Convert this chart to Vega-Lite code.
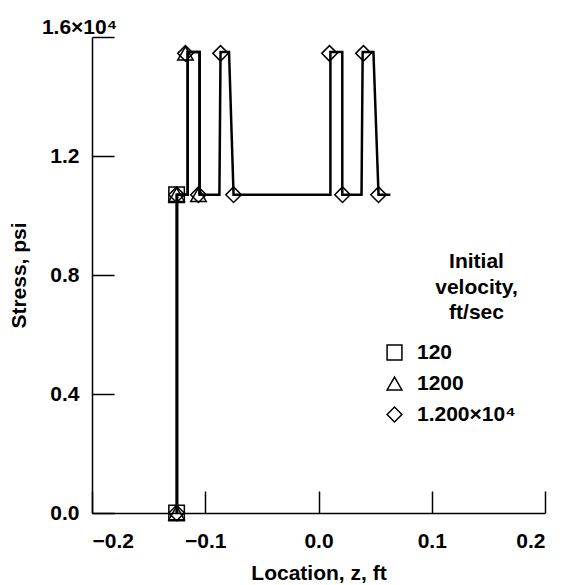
{
  "$schema": "https://vega.github.io/schema/vega-lite/v6.json",
  "width": 453,
  "height": 476,
  "autosize": {"type": "none"},
  "padding": {"left": 92, "top": 37, "right": 17, "bottom": 72},
  "config": {
    "view": {"stroke": null},
    "font": "Liberation Sans",
    "axis": {
      "grid": false,
      "domainColor": "black",
      "domainWidth": 1.5,
      "tickColor": "black",
      "tickWidth": 1.5,
      "tickSize": -22,
      "labelColor": "black",
      "labelFontSize": 21,
      "labelFontWeight": "bold",
      "titleColor": "black",
      "titleFontSize": 21,
      "titleFontWeight": "bold"
    }
  },
  "datasets": {
    "curves": [
      {"series": "1.200×10⁴", "i": 1, "z": -0.125, "stress": 0},
      {"series": "1.200×10⁴", "i": 2, "z": -0.125, "stress": 10700},
      {"series": "1.200×10⁴", "i": 3, "z": -0.1155, "stress": 10700},
      {"series": "1.200×10⁴", "i": 4, "z": -0.1155, "stress": 15500},
      {"series": "1.200×10⁴", "i": 5, "z": -0.105, "stress": 15500},
      {"series": "1.200×10⁴", "i": 6, "z": -0.105, "stress": 10700},
      {"series": "1.200×10⁴", "i": 7, "z": -0.0875, "stress": 10700},
      {"series": "1.200×10⁴", "i": 8, "z": -0.0865, "stress": 15500},
      {"series": "1.200×10⁴", "i": 9, "z": -0.079, "stress": 15500},
      {"series": "1.200×10⁴", "i": 10, "z": -0.075, "stress": 10700},
      {"series": "1.200×10⁴", "i": 11, "z": 0.0105, "stress": 10700},
      {"series": "1.200×10⁴", "i": 12, "z": 0.0105, "stress": 15500},
      {"series": "1.200×10⁴", "i": 13, "z": 0.021, "stress": 15500},
      {"series": "1.200×10⁴", "i": 14, "z": 0.021, "stress": 10700},
      {"series": "1.200×10⁴", "i": 15, "z": 0.038, "stress": 10700},
      {"series": "1.200×10⁴", "i": 16, "z": 0.039, "stress": 15500},
      {"series": "1.200×10⁴", "i": 17, "z": 0.0485, "stress": 15500},
      {"series": "1.200×10⁴", "i": 18, "z": 0.053, "stress": 10700},
      {"series": "1.200×10⁴", "i": 19, "z": 0.0635, "stress": 10700},
      {"series": "1200", "i": 1, "z": -0.125, "stress": 0},
      {"series": "1200", "i": 2, "z": -0.125, "stress": 10700},
      {"series": "1200", "i": 3, "z": -0.1155, "stress": 10700},
      {"series": "1200", "i": 4, "z": -0.1155, "stress": 15500},
      {"series": "1200", "i": 5, "z": -0.105, "stress": 15500},
      {"series": "1200", "i": 6, "z": -0.105, "stress": 10700},
      {"series": "120", "i": 1, "z": -0.125, "stress": 0},
      {"series": "120", "i": 2, "z": -0.125, "stress": 10700}
    ],
    "markers": [
      {"series": "120", "z": -0.1253, "stress": 0},
      {"series": "120", "z": -0.1253, "stress": 10700},
      {"series": "1200", "z": -0.1253, "stress": 0},
      {"series": "1200", "z": -0.1253, "stress": 10700},
      {"series": "1200", "z": -0.1175, "stress": 15450},
      {"series": "1200", "z": -0.106, "stress": 10700},
      {"series": "1.200×10⁴", "z": -0.1253, "stress": 0},
      {"series": "1.200×10⁴", "z": -0.1253, "stress": 10700},
      {"series": "1.200×10⁴", "z": -0.1175, "stress": 15450},
      {"series": "1.200×10⁴", "z": -0.106, "stress": 10700},
      {"series": "1.200×10⁴", "z": -0.0865, "stress": 15450},
      {"series": "1.200×10⁴", "z": -0.075, "stress": 10700},
      {"series": "1.200×10⁴", "z": 0.0097, "stress": 15450},
      {"series": "1.200×10⁴", "z": 0.0212, "stress": 10700},
      {"series": "1.200×10⁴", "z": 0.0397, "stress": 15450},
      {"series": "1.200×10⁴", "z": 0.053, "stress": 10700}
    ],
    "legendTitle": [
      {"line": "Initial", "z": 0.1395, "stress": 8440},
      {"line": "velocity,", "z": 0.1395, "stress": 7560},
      {"line": "ft/sec", "z": 0.1395, "stress": 6720}
    ]
  },
  "encoding": {
    "x": {
      "field": "z",
      "type": "quantitative",
      "scale": {"domain": [-0.2, 0.2], "nice": false},
      "axis": {
        "values": [-0.2, -0.1, 0, 0.1, 0.2],
        "format": ".1f",
        "labelPadding": 39,
        "title": "Location, z, ft",
        "titlePadding": 11
      }
    },
    "y": {
      "field": "stress",
      "type": "quantitative",
      "scale": {"domain": [0, 16000], "nice": false},
      "axis": {
        "values": [0, 4000, 8000, 12000, 16000],
        "labelExpr": "datum.value == 16000 ? '1.6×10⁴' : format(datum.value / 10000, '.1f')",
        "labelAlign": {"condition": {"test": "datum.value == 16000", "value": "center"}, "value": "right"},
        "labelBaseline": {"condition": {"test": "datum.value == 16000", "value": "bottom"}, "value": "middle"},
        "labelPadding": 35,
        "title": "Stress, psi",
        "titlePadding": 12
      }
    }
  },
  "layer": [
    {
      "data": {"name": "curves"},
      "mark": {"type": "line", "color": "black", "strokeWidth": 2.5},
      "encoding": {
        "detail": {"field": "series", "type": "nominal"},
        "order": {"field": "i", "type": "quantitative"}
      }
    },
    {
      "data": {"name": "markers"},
      "mark": {"type": "point", "filled": false, "stroke": "black", "strokeWidth": 1.5, "size": 240, "opacity": 1},
      "encoding": {
        "shape": {
          "field": "series",
          "type": "nominal",
          "scale": {"domain": ["120", "1200", "1.200×10⁴"], "range": ["square", "triangle-up", "diamond"]},
          "legend": {
            "orient": "none",
            "legendX": 292,
            "legendY": 305,
            "padding": 0,
            "title": null,
            "labelFontSize": 21,
            "labelFontWeight": "bold",
            "labelColor": "black",
            "labelOffset": 12,
            "rowPadding": 9,
            "symbolSize": 220,
            "symbolStrokeColor": "black",
            "symbolStrokeWidth": 1.5,
            "symbolFillColor": "transparent"
          }
        }
      }
    },
    {
      "data": {"name": "legendTitle"},
      "mark": {"type": "text", "font": "Liberation Sans", "fontSize": 21, "fontWeight": "bold", "color": "black", "align": "center", "baseline": "middle"},
      "encoding": {
        "text": {"field": "line", "type": "nominal"}
      }
    }
  ]
}
